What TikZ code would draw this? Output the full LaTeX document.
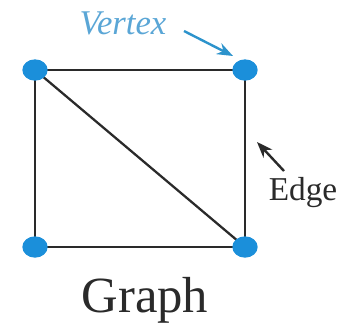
\documentclass[tikz,border=0pt]{standalone}
\usepackage{fontspec}
\setmainfont{Liberation Serif}
\usetikzlibrary{arrows.meta,shapes.geometric}
\definecolor{dotblue}{HTML}{1B8FDA}
\definecolor{txtblue}{HTML}{5AA6D6}
\definecolor{arrblue}{HTML}{2C93CC}
\definecolor{ink}{HTML}{2A2A2A}
\begin{document}
\begin{tikzpicture}[x=0.75pt,y=-0.75pt,
  vtx/.style={ellipse,fill=dotblue,minimum width=19pt,minimum height=16pt,inner sep=0pt},
  edg/.style={draw=ink,line width=1.7pt},
  lbl/.style={inner sep=0pt},
  ptr/.style={-{Stealth[length=12pt,width=9pt]},line width=1.8pt}]
\useasboundingbox (0,0) rectangle (342,329);
\fill[white] (0,0) rectangle (342,329);
\coordinate (A) at (35,70);
\coordinate (B) at (245,70);
\coordinate (C) at (35,247);
\coordinate (D) at (245,247);
\draw[edg] (A) -- (B) -- (D) -- (C) -- cycle;
\draw[edg] (A) -- (D);
\node[vtx] (a) at (A) {};
\node[vtx] (b) at (B) {};
\node[vtx] (c) at (C) {};
\node[vtx] (d) at (D) {};
\node[lbl,text=txtblue,font=\fontsize{26}{26}\selectfont\itshape,anchor=base] (vt) at (123,34) {Vertex};
\node[lbl,text=ink,font=\fontsize{25}{25}\selectfont,anchor=base] (et) at (303,200) {Edge};
\node[lbl,text=ink,font=\fontsize{38}{38}\selectfont,anchor=base] (gt) at (145,312) {Graph};
\coordinate (v1) at (184,31);
\coordinate (v2) at (233,56);
\draw[ptr,arrblue] (v1) -- (v2);
\coordinate (e1) at (284,171);
\coordinate (e2) at (257,142);
\draw[ptr,ink] (e1) -- (e2);
\end{tikzpicture}
\end{document}
